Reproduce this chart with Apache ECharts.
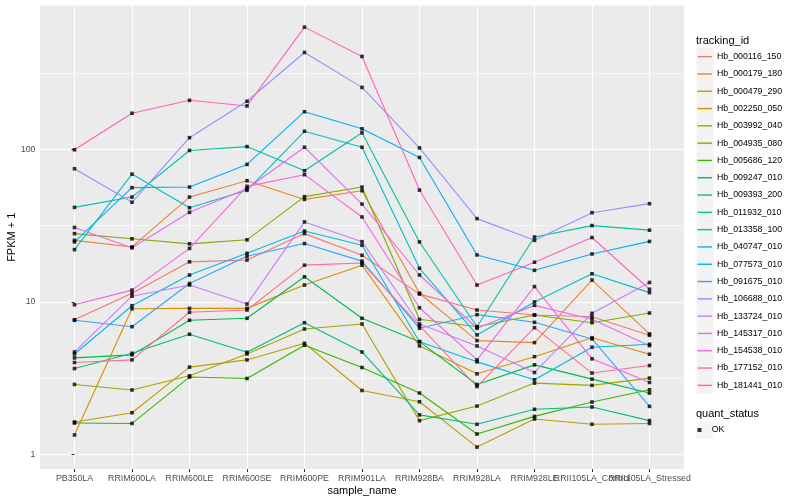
<!DOCTYPE html>
<html><head><meta charset="utf-8">
<script src="https://cdn.jsdelivr.net/npm/echarts@6/dist/echarts.min.js"></script>
<style>html,body{margin:0;padding:0;background:#fff}#c{width:800px;height:500px}</style>
</head><body><div id="c"></div>
<script>
// ---- data ----
const categories = ['PB350LA','RRIM600LA','RRIM600LE','RRIM600SE','RRIM600PE','RRIM901LA','RRIM928BA','RRIM928LA','RRIM928LE','RRII105LA_Control','RRII105LA_Stressed'];
const trackingIds = ['Hb_000116_150','Hb_000179_180','Hb_000479_290','Hb_002250_050','Hb_003992_040','Hb_004935_080','Hb_005686_120','Hb_009247_010','Hb_009393_200','Hb_011932_010','Hb_013358_100','Hb_040747_010','Hb_077573_010','Hb_091675_010','Hb_106688_010','Hb_133724_010','Hb_145317_010','Hb_154538_010','Hb_177152_010','Hb_181441_010'];
const seriesColors = ['#F8766D','#EA8331','#D89000','#C09B00','#A3A500','#7CAE00','#39B600','#00BB4E','#00BF7D','#00C1A3','#00BFC4','#00BAE0','#00B0F6','#35A2FF','#9590FF','#C77CFF','#E76BF3','#FA62DB','#FF62BC','#FF6C91'];

const Hb_000116_150 = [7.64, 11.4, 18.3, 18.8, 28.0, 20.2, 11.25, 8.85, 8.21, 8.00, 6.05];
const Hb_000179_180 = [25.3, 22.9, 48.6, 62.2, 46.9, 53.5, 11.4, 5.58, 5.41, 13.9, 6.17];
const Hb_000479_290 = [1.345, 9.02, 9.07, 9.07, 12.9, 17.4, 5.15, 3.38, 4.38, 5.83, 4.54];
const Hb_002250_050 = [1.635, 1.88, 3.74, 4.17, 5.36, 2.63, 2.22, 1.12, 1.71, 1.58, 1.60];
const Hb_003992_040 = [2.88, 2.65, 3.28, 4.56, 6.65, 7.17, 1.67, 2.08, 2.94, 2.84, 3.17];
const Hb_004935_080 = [28.0, 25.9, 24.0, 25.5, 48.9, 56.5, 7.69, 6.88, 8.21, 7.31, 8.46];
const Hb_005686_120 = [1.61, 1.60, 3.22, 3.15, 5.20, 3.72, 2.53, 1.365, 1.78, 2.21, 2.66];
const Hb_009247_010 = [4.30, 4.50, 7.58, 7.81, 14.6, 7.81, 5.49, 2.88, 3.87, 3.12, 2.53];
const Hb_009393_200 = [3.66, 4.61, 6.14, 4.68, 7.31, 4.70, 1.82, 1.58, 1.98, 2.05, 1.67];
const Hb_011932_010 = [41.6, 48.6, 98.1, 104, 72.3, 128, 24.7, 6.88, 26.6, 31.6, 29.5];
const Hb_013358_100 = [22.0, 68.7, 41.4, 53.8, 131, 103, 16.6, 6.08, 10.0, 15.3, 11.5];
const Hb_040747_010 = [4.56, 9.44, 15.0, 20.8, 29.1, 23.5, 5.49, 4.05, 3.09, 5.05, 5.28];
const Hb_077573_010 = [24.7, 56.0, 56.5, 79.5, 176, 136, 88.3, 20.3, 16.1, 20.6, 24.9];
const Hb_091675_010 = [7.58, 6.88, 13.2, 19.9, 24.1, 18.5, 6.72, 8.25, 7.35, 5.72, 2.07];
const Hb_106688_010 = [74.5, 44.9, 119, 206, 430, 254, 102, 35.1, 25.3, 38.4, 44.0];
const Hb_133724_010 = [4.70, 10.9, 12.9, 9.68, 33.4, 24.8, 7.17, 5.15, 3.45, 8.42, 13.4];
const Hb_145317_010 = [30.7, 22.6, 38.6, 55.1, 103, 43.7, 15.0, 6.72, 9.49, 7.69, 5.17];
const Hb_154538_010 = [9.58, 11.95, 22.4, 57.1, 68.1, 36.0, 9.16, 4.17, 12.6, 4.24, 2.97];
const Hb_177152_010 = [99.1, 172, 209, 192, 630, 405, 54.0, 12.9, 18.2, 26.4, 12.1];
const Hb_181441_010 = [4.01, 4.17, 8.55, 8.85, 17.4, 18.0, 6.99, 2.79, 6.78, 3.42, 3.83];

const seriesValues = [Hb_000116_150, Hb_000179_180, Hb_000479_290, Hb_002250_050, Hb_003992_040, Hb_004935_080, Hb_005686_120, Hb_009247_010, Hb_009393_200, Hb_011932_010, Hb_013358_100, Hb_040747_010, Hb_077573_010, Hb_091675_010, Hb_106688_010, Hb_133724_010, Hb_145317_010, Hb_154538_010, Hb_177152_010, Hb_181441_010];

const yTickValues = [1, 10, 100];
const yMinorBreaks = [3.1623, 31.623, 316.23];
const quantStatus = 'OK';

// ---- chart ----
const FONT = 'Liberation Sans';
const catIdx = categories.map((c, i) => i);
const evenIdx = catIdx.filter(i => i % 2 === 0);
const oddIdx = catIdx.filter(i => i % 2 === 1);
const chart = echarts.init(document.getElementById('c'), null, {renderer: 'canvas'});

const lineSeries = trackingIds.map((id, k) => ({
  name: id, type: 'line', silent: true, z: 2, xAxisIndex: 0,
  data: seriesValues[k].map((v, i) => [i, v]),
  showSymbol: false, symbol: 'none',
  lineStyle: {width: 1.1, color: seriesColors[k]},
  itemStyle: {color: seriesColors[k]}
}));
const pointData = [];
seriesValues.forEach(arr => arr.forEach((v, i) => pointData.push([i, v])));

function catLabel(allowed) {
  return v => {
    const r = Math.round(v);
    return (Math.abs(v - r) < 1e-6 && allowed.indexOf(r) >= 0) ? categories[r] : '';
  };
}
const xLabelBase = {color: '#4D4D4D', fontSize: 8.8, margin: 5, fontFamily: FONT,
  hideOverlap: false, showMinLabel: true, showMaxLabel: true};

const option = {
  animation: false,
  backgroundColor: '#ffffff',
  textStyle: {fontFamily: FONT},
  title: [
    {text: 'tracking_id', left: 696, top: 35, padding: 0, textStyle: {fontSize: 11, fontWeight: 'normal', color: '#000', fontFamily: FONT}},
    {text: 'quant_status', left: 696, top: 408, padding: 0, textStyle: {fontSize: 11, fontWeight: 'normal', color: '#000', fontFamily: FONT}}
  ],
  grid: {left: 40, top: 5.5, width: 644, height: 463.5, show: true, backgroundColor: '#EBEBEB', borderWidth: 0,
         containLabel: false, outerBoundsMode: 'none'},
  xAxis: [{
    type: 'value', min: -0.6, max: 10.6, splitNumber: 11, position: 'bottom',
    axisLine: {show: false},
    axisTick: {show: true, length: 3, lineStyle: {color: '#333333', width: 1}, customValues: catIdx},
    axisLabel: Object.assign({customValues: evenIdx, formatter: catLabel(evenIdx)}, xLabelBase),
    splitLine: {show: true, lineStyle: {color: '#ffffff', width: 1.2}},
    name: 'sample_name', nameLocation: 'middle', nameGap: 16, nameMoveOverlap: false,
    nameTextStyle: {color: '#000', fontSize: 11, fontFamily: FONT}
  }, {
    type: 'value', min: -0.6, max: 10.6, splitNumber: 11, position: 'bottom', offset: 0,
    axisLine: {show: false}, axisTick: {show: false, customValues: oddIdx}, splitLine: {show: false},
    axisLabel: Object.assign({customValues: oddIdx, formatter: catLabel(oddIdx)}, xLabelBase)
  }],
  yAxis: {
    type: 'log', logBase: 10, min: 0.805, max: 873,
    axisLine: {show: false},
    axisTick: {show: true, length: 3, lineStyle: {color: '#333333', width: 1}, customValues: yTickValues},
    axisLabel: {customValues: yTickValues, color: '#4D4D4D', fontSize: 8.8, margin: 4.5, fontFamily: FONT,
      formatter: v => yTickValues.some(t => Math.abs(t - v) / t < 1e-6) ? String(Math.round(v)) : ''},
    splitLine: {show: true, lineStyle: {color: '#ffffff', width: 1.2}},
    name: 'FPKM + 1', nameLocation: 'middle', nameGap: 23, nameRotate: 90, nameMoveOverlap: false,
    nameTextStyle: {color: '#000', fontSize: 11, fontFamily: FONT}
  },
  legend: [
    {data: trackingIds, orient: 'vertical', left: 696.5, top: 48, icon: 'rect', itemWidth: 17, itemHeight: 17, itemGap: 0.3,
     itemStyle: {color: '#F2F2F2'}, formatter: () => '', textStyle: {fontSize: 8}, selectedMode: false, padding: 0},
    {data: trackingIds, orient: 'vertical', left: 697.5, top: 48, icon: 'rect', itemWidth: 14.5, itemHeight: 1.4, itemGap: 0,
     textStyle: {fontSize: 8.8, lineHeight: 17.3, color: '#000', fontFamily: FONT}, selectedMode: false, padding: 0},
    {data: [quantStatus], orient: 'vertical', left: 696.5, top: 421.5, icon: 'rect', itemWidth: 17, itemHeight: 17,
     itemStyle: {color: '#F2F2F2'}, formatter: () => '', textStyle: {fontSize: 8}, selectedMode: false, padding: 0},
    {data: [quantStatus], orient: 'vertical', left: 697.5, top: 421.5, icon: 'path://M0,0L4,0L4,4L0,4Z', itemWidth: 14.5, itemHeight: 4,
     itemStyle: {color: '#000'}, textStyle: {fontSize: 8.8, lineHeight: 17, color: '#000', fontFamily: FONT}, selectedMode: false, padding: 0}
  ],
  series: lineSeries.concat([{
    name: quantStatus, type: 'scatter', silent: true, z: 3, xAxisIndex: 0,
    data: pointData, symbol: 'rect', symbolSize: 3.6,
    itemStyle: {color: '#000000'},
    markLine: {silent: true, symbol: 'none', z: 1, animation: false,
      label: {show: false}, lineStyle: {color: '#ffffff', width: 0.6, type: 'solid'},
      data: yMinorBreaks.map(v => ({yAxis: v}))}
  }])
};
chart.setOption(option);
</script>
</body></html>
